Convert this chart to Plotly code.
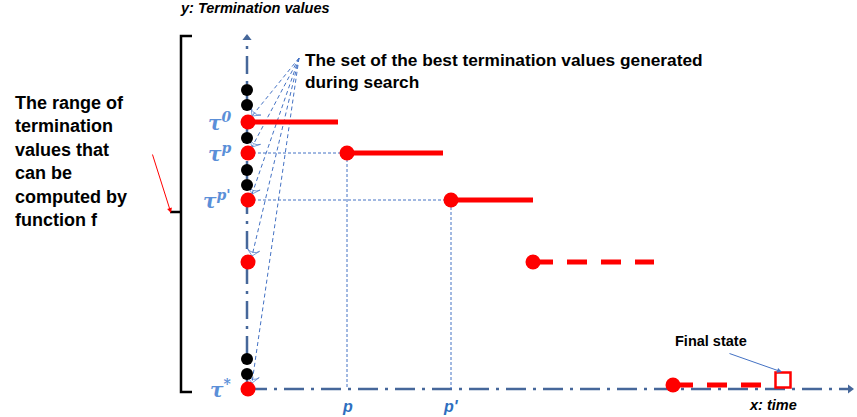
import plotly.graph_objects as go

# ---------------- data (x = time, y = termination value) ----------------
black_dot_values = [299, 284, 251, 219, 204, 30, 15]          # other computed values on the y axis
best_values = [267, 236, 189, 127, 0]                          # best termination values found
best_value_labels = ["τ<sup>0</sup>", "τ<sup>p</sup>", "τ<sup>p'</sup>", "", "τ<sup>*</sup>"]
step_start_times = [0, 100, 204, 286, 426]
step_end_times = [91, 196, 286, 407, 528]
step_values = [267, 236, 189, 127, 4]
step_is_solid = [True, True, True, False, False]
time_tick_values = [100, 204]
time_tick_labels = ["p", "p'"]
final_state_time = 536
final_state_value = 9
axis_time_max = 603
axis_value_max = 351
range_top = 353
range_bottom = -3
range_mid = 177

AXIS = "#46679a"
BLUE = "#4472c4"
LABEL_BLUE = "#5b8fd8"
RED = "#ff0000"

fig = go.Figure()

# axes (dash-dot with arrowheads)
fig.add_trace(go.Scatter(x=[0, 0], y=[0, axis_value_max], mode="lines",
                         line=dict(color=AXIS, width=2.5, dash="18px,7px,3px,7px"), hoverinfo="skip"))
fig.add_trace(go.Scatter(x=[0, axis_time_max], y=[0, 0], mode="lines",
                         line=dict(color=AXIS, width=2.5, dash="20px,7px,3px,7px"), hoverinfo="skip"))
fig.add_trace(go.Scatter(x=[0, axis_time_max], y=[axis_value_max, 0], mode="markers",
                         marker=dict(symbol=["triangle-up", "triangle-right"], size=8, color=AXIS),
                         hoverinfo="skip"))

# guide lines from best values to the times they were reached
for t, v in zip(time_tick_values, best_values[1:3]):
    fig.add_trace(go.Scatter(x=[1, t, t], y=[v, v, 0], mode="lines",
                             line=dict(color=BLUE, width=1, dash="3px,2px"), hoverinfo="skip"))

# fan of dashed arrows from the caption to the best values
fan_origin_t, fan_origin_v = 52, 331
for v in best_values:
    fig.add_trace(go.Scatter(x=[fan_origin_t, 5], y=[fan_origin_v, v + 6], mode="lines+markers",
                             line=dict(color=BLUE, width=1, dash="4px,3px"),
                             marker=dict(symbol="arrow-wide-open", size=[0, 9], angleref="previous",
                                         color=BLUE, line=dict(color=BLUE, width=1)),
                             hoverinfo="skip"))

# black dots on the axis
fig.add_trace(go.Scatter(x=[0] * len(black_dot_values), y=black_dot_values, mode="markers",
                         marker=dict(color="black", size=12), hoverinfo="skip"))

# step segments
for s, e, v, solid in zip(step_start_times, step_end_times, step_values, step_is_solid):
    fig.add_trace(go.Scatter(x=[s, e], y=[v, v], mode="lines",
                             line=dict(color=RED, width=5, dash="solid" if solid else "20px,14px"),
                             hoverinfo="skip"))
    if s > 0:
        fig.add_trace(go.Scatter(x=[s], y=[v], mode="markers",
                                 marker=dict(color=RED, size=15), hoverinfo="skip"))

# red dots on the axis
fig.add_trace(go.Scatter(x=[1] * len(best_values), y=best_values, mode="markers",
                         marker=dict(color=RED, size=15), hoverinfo="skip"))

# final state square
fig.add_trace(go.Scatter(x=[final_state_time], y=[final_state_value], mode="markers",
                         marker=dict(symbol="square-open", size=15, color=RED, line=dict(width=2.5)),
                         hoverinfo="skip"))

# bracket for the range of values
bx0, bx1, bnotch = -66, -55, -77
fig.add_trace(go.Scatter(x=[bx1, bx0, bx0, bnotch, bx0, bx0, bx1],
                         y=[range_top, range_top, range_mid, range_mid, range_mid, range_bottom, range_bottom],
                         mode="lines", line=dict(color="black", width=2.5), hoverinfo="skip"))

ann = []
for v, lab in zip(best_values, best_value_labels):
    if lab:
        ann.append(dict(x=-14, y=v, text="<b><i>" + lab + "</i></b>", showarrow=False, xanchor="right",
                        yanchor="middle", font=dict(family="DejaVu Serif", size=20, color=LABEL_BLUE)))
for t, lab in zip(time_tick_values, time_tick_labels):
    ann.append(dict(x=t, y=-17, text="<b><i>" + lab + "</i></b>", showarrow=False, xanchor="center",
                    yanchor="middle", font=dict(family="Liberation Sans", size=16, color="#2e6fc0")))

ann += [
    dict(x=-69, y=381, text="<b><i>y: Termination values</i></b>", showarrow=False, xanchor="left",
         yanchor="middle", font=dict(family="Liberation Sans", size=14.5, color="black")),
    dict(x=500, y=-16, text="<b><i>x: time</i></b>", showarrow=False, xanchor="left",
         yanchor="middle", font=dict(family="Liberation Sans", size=14.5, color="black")),
    dict(x=426, y=48, text="<b>Final state</b>", showarrow=False, xanchor="left",
         yanchor="middle", font=dict(family="Liberation Sans", size=14.5, color="black")),
    dict(x=535, y=17, ax=481, ay=36, xref="x", yref="y", axref="x", ayref="y", text="",
         showarrow=True, arrowhead=2, arrowsize=1, arrowwidth=1, arrowcolor=BLUE),
    dict(x=56, y=318, text="<b>The set of the best termination values generated<br>during search</b>",
         showarrow=False, xanchor="left", yanchor="middle", align="left",
         font=dict(family="Liberation Sans", size=17.3, color="black")),
    dict(x=-234, y=228, text="<b>The range of<br>termination<br>values that<br>can be<br>computed by<br>function f</b>",
         showarrow=False, xanchor="left", yanchor="middle", align="left",
         font=dict(family="Liberation Sans", size=18, color="black")),
    dict(x=-76, y=176, ax=-95, ay=236, xref="x", yref="y", axref="x", ayref="y", text="",
         showarrow=True, arrowhead=2, arrowsize=1, arrowwidth=1, arrowcolor=RED),
]

fig.update_layout(
    width=857, height=417, autosize=False,
    margin=dict(l=0, r=0, t=0, b=0),
    paper_bgcolor="white", plot_bgcolor="white",
    showlegend=False,
    xaxis=dict(range=[-247, 610], visible=False, fixedrange=True),
    yaxis=dict(range=[-28, 389], visible=False, fixedrange=True),
    annotations=ann,
)

fig.write_html("out.html", config={"displayModeBar": False},
               post_script="document.body.style.margin='0';document.body.style.overflow='hidden';")
